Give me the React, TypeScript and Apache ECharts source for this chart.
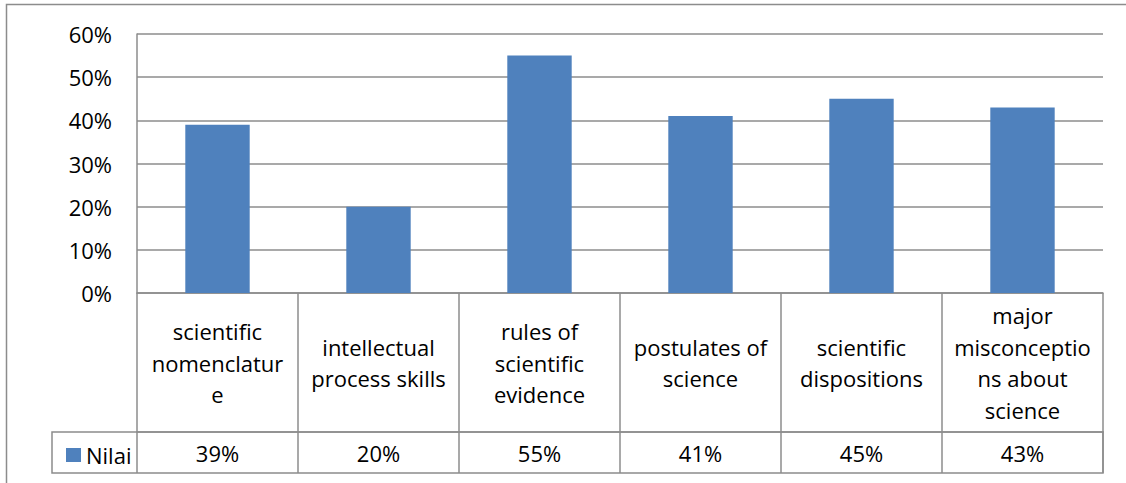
import React, { useEffect, useRef } from "react";
import * as echarts from "echarts";

const categories = [
  "scientific nomenclature",
  "intellectual process skills",
  "rules of scientific evidence",
  "postulates of science",
  "scientific dispositions",
  "major misconceptions about science",
];
const headerLabels = [
  "scientific\nnomenclatur\ne",
  "intellectual\nprocess skills",
  "rules of\nscientific\nevidence",
  "postulates of\nscience",
  "scientific\ndispositions",
  "major\nmisconceptio\nns about\nscience",
];
const values = [0.39, 0.2, 0.55, 0.41, 0.45, 0.43];
const seriesName = "Nilai";
const yTicks = [0, 0.1, 0.2, 0.3, 0.4, 0.5, 0.6];

const FONT = "Open Sans";
const LINE = "#8C8C8C";
const BAR = "#4F81BD";

export default function App() {
  const ref = useRef<HTMLDivElement>(null);
  useEffect(() => {
    if (!ref.current) return;
    const chart = echarts.init(ref.current, null, { renderer: "svg" });
    const W = 1126;
    const H = 483;
    const gridLeft = 137;
    const gridRight = 1103;
    const gridTop = 34;
    const gridBottom = 293;
    const headerBottom = 432;
    const tableBottom = 473;
    const legendLeft = 52;
    chart.setOption({
      animation: false,
      backgroundColor: "#ffffff",
      textStyle: { fontFamily: FONT },
      grid: {
        left: gridLeft,
        right: W - gridRight,
        top: gridTop,
        bottom: H - gridBottom,
        containLabel: false,
      },
      legend: {
        data: [seriesName],
        left: 61,
        top: 439,
        icon: "rect",
        itemWidth: 15,
        itemHeight: 14,
        textStyle: { fontSize: 22, color: "#000", fontFamily: FONT },
      },
      xAxis: [
        {
          type: "category",
          data: categories,
          position: "bottom",
          axisLine: { show: true, lineStyle: { color: LINE, width: 1.5 } },
          axisTick: {
            show: true,
            interval: 0,
            length: tableBottom - gridBottom,
            lineStyle: { color: LINE, width: 1.5 },
          },
          axisLabel: {
            interval: 0,
            formatter: (_v: string, i: number) => headerLabels[i],
            verticalAlign: "middle",
            margin: (headerBottom - gridBottom) / 2,
            lineHeight: 31.5,
            fontSize: 22,
            color: "#000",
            fontFamily: FONT,
          },
        },
        {
          type: "category",
          data: categories,
          position: "bottom",
          offset: headerBottom - gridBottom,
          axisLine: { show: true, lineStyle: { color: LINE, width: 1.5 } },
          axisTick: { show: false },
          axisLabel: {
            interval: 0,
            formatter: (_v: string, i: number) => `${Math.round(values[i] * 100)}%`,
            verticalAlign: "middle",
            margin: (tableBottom - headerBottom) / 2,
            fontSize: 22,
            color: "#000",
            fontFamily: FONT,
          },
        },
      ],
      yAxis: {
        type: "value",
        min: yTicks[0],
        max: yTicks[yTicks.length - 1],
        interval: 0.1,
        axisLine: { show: true, lineStyle: { color: LINE, width: 1.5 } },
        axisTick: { show: false },
        splitLine: { show: true, lineStyle: { color: LINE, width: 1.5 } },
        axisLabel: {
          formatter: (v: number) => `${Math.round(v * 100)}%`,
          margin: 25,
          fontSize: 22,
          color: "#000",
          fontFamily: FONT,
        },
      },
      series: [
        {
          name: seriesName,
          type: "bar",
          data: values,
          barWidth: "40%",
          itemStyle: { color: BAR },
        },
      ],
      graphic: [
        {
          type: "rect",
          silent: true,
          shape: { x: 6.5, y: 4.5, width: 1300, height: 700 },
          style: { fill: "none", stroke: LINE, lineWidth: 1.5 },
        },
        {
          type: "rect",
          silent: true,
          shape: {
            x: legendLeft,
            y: headerBottom,
            width: gridRight - legendLeft,
            height: tableBottom - headerBottom,
          },
          style: { fill: "none", stroke: LINE, lineWidth: 1.5 },
        },
      ],
    });
    return () => chart.dispose();
  }, []);
  return (
    <div
      ref={ref}
      style={{ position: "fixed", left: 0, top: 0, width: 1126, height: 483 }}
    />
  );
}
